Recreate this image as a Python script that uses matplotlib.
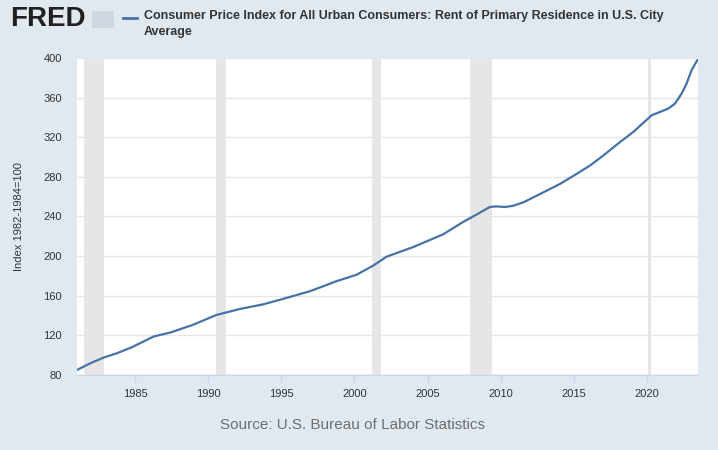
import matplotlib
matplotlib.use("Agg")
import matplotlib.pyplot as plt
from matplotlib.patches import Rectangle

plt.rcParams['font.family'] = ['Liberation Sans', 'DejaVu Sans']

# Data (decimal year, index value)
years = [1981.0, 1981.92, 1982.83, 1983.74, 1984.77, 1986.25, 1987.4, 1988.95, 1990.54,
         1992.14, 1993.74, 1995.1, 1996.94, 1998.77, 2000.14, 2001.27, 2002.19,
         2004.01, 2006.07, 2007.44, 2008.36, 2009.27, 2009.73, 2010.3, 2010.86,
         2011.55, 2012.92, 2014.06, 2015.21, 2016.12, 2017.03, 2018.17, 2019.08,
         2020.34, 2020.91, 2021.48, 2021.94, 2022.4, 2022.74, 2023.08, 2023.47]
values = [85.1, 91.9, 97.6, 102.0, 108.1, 118.9, 122.9, 130.7, 140.6,
          146.6, 151.3, 156.8, 164.5, 174.7, 181.2, 190.3, 199.4,
          209.1, 222.0, 234.5, 242.0, 249.6, 250.2, 249.6, 250.8,
          254.2, 264.3, 272.8, 283.0, 291.4, 301.5, 315.0, 325.2,
          342.1, 345.5, 348.9, 353.9, 364.1, 374.2, 387.7, 397.8]

recession_starts = [1981.5, 1990.5, 2001.17, 2007.92, 2020.08]
recession_ends = [1982.83, 1991.17, 2001.83, 2009.42, 2020.33]

y_ticks = [80, 120, 160, 200, 240, 280, 320, 360, 400]
x_ticks = [1985, 1990, 1995, 2000, 2005, 2010, 2015, 2020]

title = "Consumer Price Index for All Urban Consumers: Rent of Primary Residence in U.S. City\nAverage"
ylabel = "Index 1982-1984=100"
source = "Source: U.S. Bureau of Labor Statistics"

bg = "#e1e9f0"
line_color = "#4572a7"

fig = plt.figure(figsize=(7.18, 4.5), dpi=100, facecolor=bg)
ax = fig.add_axes([77/718, 75/450, 621/718, 317/450])
ax.set_facecolor("white")

for s, e in zip(recession_starts, recession_ends):
    ax.axvspan(s, e, color="#e6e6e6", lw=0, zorder=1)

ax.plot(years, values, color=line_color, lw=1.6, zorder=3, solid_capstyle="round",
        solid_joinstyle="round")

ax.set_xlim(1981.0, 2023.52)
ax.set_ylim(80, 400)
ax.set_yticks(y_ticks)
ax.set_yticklabels([str(v) for v in y_ticks])
ax.set_xticks(x_ticks)
ax.set_xticklabels([str(v) for v in x_ticks])
ax.grid(axis="y", color="#e6e6e6", lw=1, zorder=0)
ax.set_axisbelow(True)

for side in ["top", "right", "left"]:
    ax.spines[side].set_visible(False)
ax.spines["bottom"].set_color("#ccd6eb")
ax.spines["bottom"].set_linewidth(1)

ax.tick_params(axis="y", length=0, pad=11, labelsize=8, labelcolor="#333333")
ax.tick_params(axis="x", length=6, width=1, color="#ccd6eb", pad=4,
               labelsize=8, labelcolor="#333333")

ax.set_ylabel(ylabel, fontsize=8, color="#333333", labelpad=14)

# Header: FRED wordmark and legend
fig.text(10/718, 1 - 19/450, "FRED", fontsize=20, fontweight="bold",
         color="#231f20", va="center", ha="left")
fig.patches.append(Rectangle((92/718, 1 - 28/450), 22/718, 17/450,
                             transform=fig.transFigure, facecolor="#cfd8e0",
                             edgecolor="none"))
fig.add_artist(plt.Line2D([123/718, 137/718], [1 - 18/450, 1 - 18/450],
                          transform=fig.transFigure, color=line_color, lw=2))
fig.text(144/718, 1 - 10/450, title, fontsize=9, fontweight="bold",
         color="#333333", va="top", ha="left", linespacing=1.45)

fig.text(353/718, 1 - 425/450, source, fontsize=11, color="#6e6e6e",
         ha="center", va="center")

fig.savefig("out.png", dpi=100, facecolor=bg)
